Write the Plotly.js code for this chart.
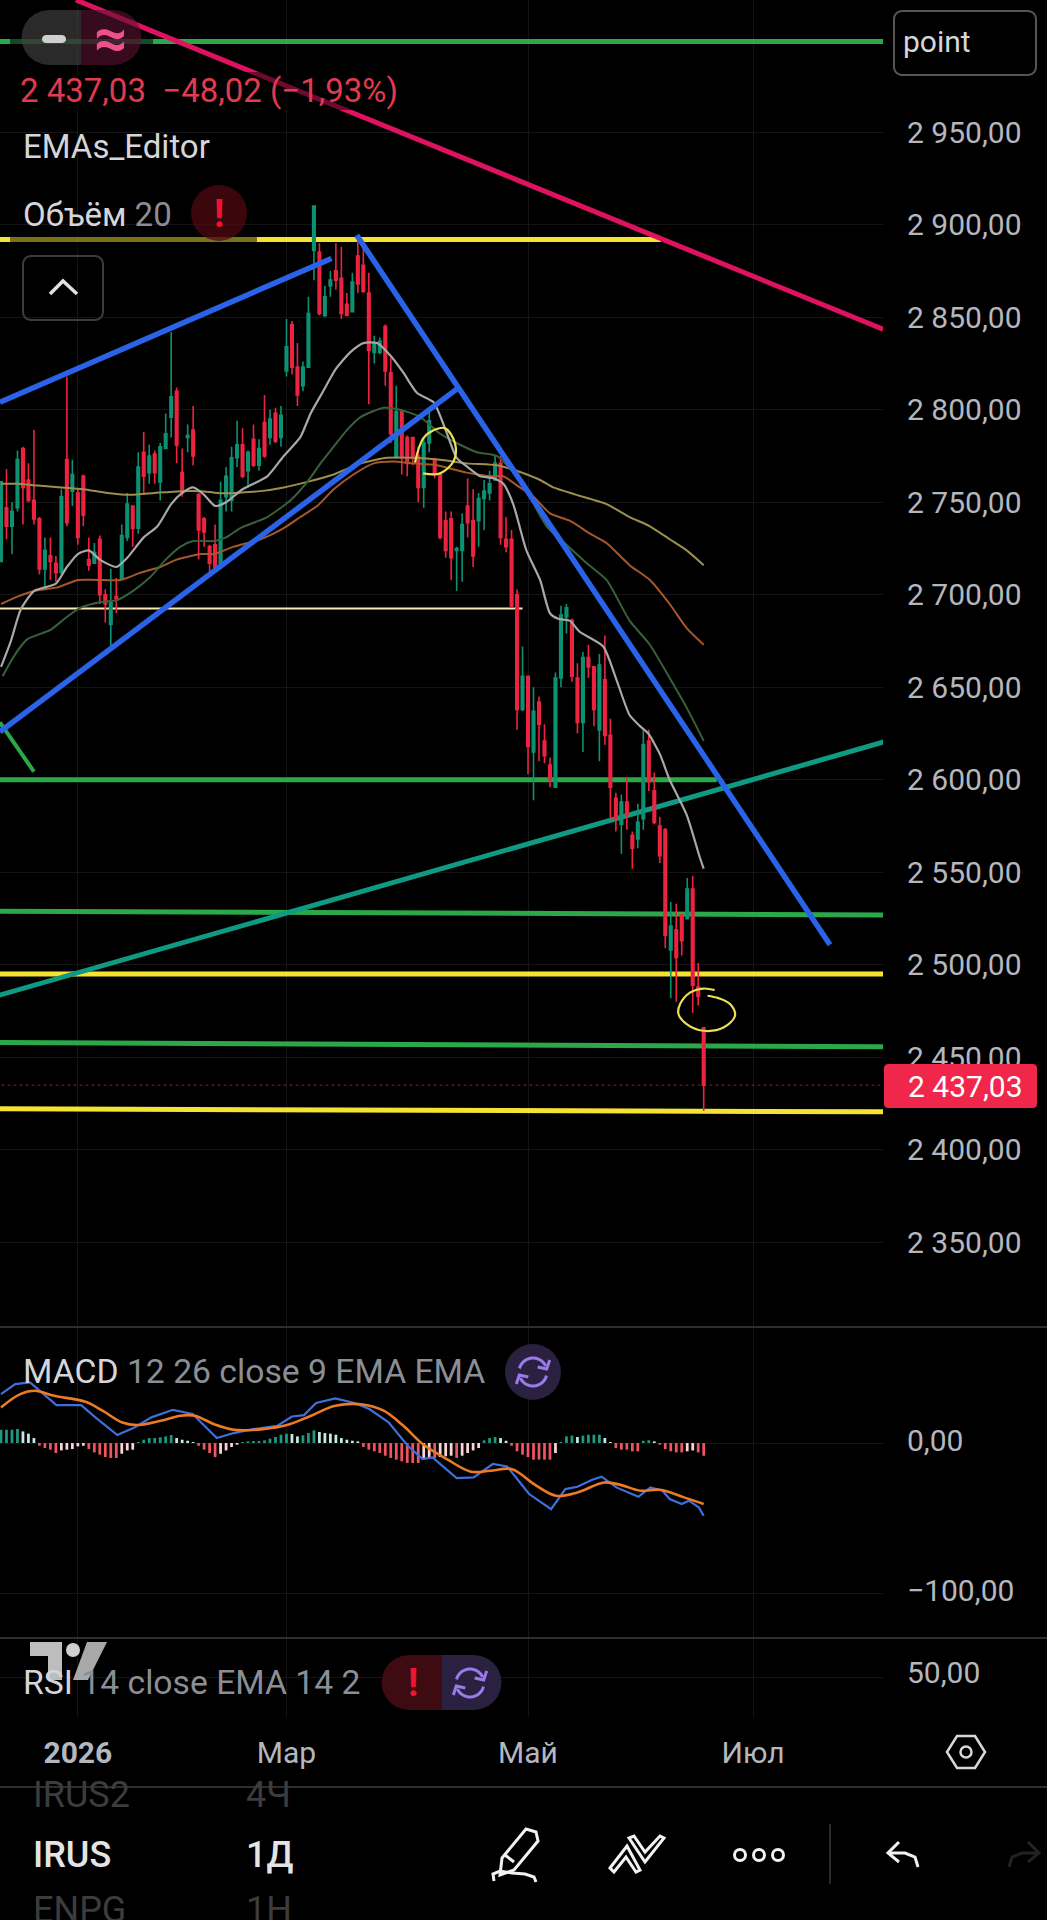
<!DOCTYPE html>
<html><head><meta charset="utf-8">
<script src="https://cdn.plot.ly/plotly-3.0.1.min.js"></script>
<style>html,body{margin:0;padding:0;background:#000;overflow:hidden}#c{width:1047px;height:1920px}</style>
</head><body><div id="c"></div>
<script>
const open_ = [
2718,2747,2737,2747,2779,2762,2751,2741,2714,2721,
2717,2712,2773,2756,2755,2764,2719,2717,2730,2700,
2684,2699,2709,2731,2748,2736,2777,2766,2776,2761,
2779,2796,2810,2766,2785,2789,2754,2741,2726,2727,
2715,2753,2751,2774,2781,2767,2784,2770,2793,2785,
2798,2785,2821,2846,2823,2813,2823,2886,2885,2851,
2867,2875,2871,2857,2853,2883,2878,2863,2831,2831,
2845,2820,2774,2799,2785,2785,2775,2758,2782,2773,
2765,2740,2741,2724,2724,2748,2740,2740,2752,2755,
2762,2771,2730,2730,2700,2638,2656,2615,2642,2621,
2608,2596,2655,2688,2686,2655,2631,2666,2661,2627,
2654,2624,2590,2576,2588,2570,2568,2579,2621,2594,
2575,2573,2508,2519,2527,2525,2541,2488,2466];
const close_ = [
2761,2737,2745,2773,2758,2751,2741,2714,2724,2718,
2712,2753,2739,2765,2731,2743,2716,2723,2700,2695,
2696,2698,2732,2749,2736,2769,2764,2775,2766,2780,
2787,2807,2781,2755,2786,2775,2735,2734,2717,2715,
2751,2764,2774,2781,2764,2777,2770,2779,2775,2795,
2783,2797,2834,2823,2808,2823,2852,2910,2852,2861,
2870,2870,2852,2851,2869,2868,2864,2832,2836,2837,
2821,2787,2799,2774,2771,2774,2758,2782,2794,2765,
2731,2724,2720,2725,2738,2739,2721,2752,2756,2760,
2771,2731,2726,2694,2638,2656,2618,2637,2630,2613,
2600,2655,2689,2693,2656,2631,2666,2661,2638,2662,
2624,2596,2579,2588,2581,2563,2577,2619,2599,2577,
2559,2516,2521,2504,2513,2541,2489,2483,2435];
const high_ = [
2761,2768,2750,2778,2780,2771,2789,2742,2731,2731,
2721,2757,2818,2773,2757,2765,2731,2728,2732,2703,
2714,2709,2738,2755,2748,2777,2788,2781,2778,2782,
2798,2842,2812,2779,2792,2802,2755,2742,2727,2738,
2761,2769,2780,2794,2790,2778,2792,2784,2808,2800,
2801,2802,2849,2848,2836,2826,2861,2910,2890,2867,
2875,2890,2888,2863,2874,2892,2888,2874,2840,2839,
2846,2828,2813,2799,2786,2785,2780,2785,2799,2774,
2766,2745,2745,2726,2744,2763,2757,2755,2762,2767,
2775,2775,2742,2735,2703,2672,2656,2650,2645,2630,
2612,2658,2694,2695,2687,2663,2669,2673,2661,2668,
2678,2633,2593,2592,2601,2572,2587,2627,2627,2604,
2580,2574,2534,2533,2527,2547,2548,2501,2466];
const low_ = [
2718,2730,2722,2745,2738,2750,2738,2711,2703,2708,
2707,2711,2737,2748,2727,2737,2713,2717,2695,2685,
2672,2690,2709,2729,2726,2733,2754,2760,2760,2751,
2779,2785,2771,2753,2777,2770,2719,2726,2711,2714,
2714,2745,2745,2769,2763,2758,2769,2767,2774,2781,
2782,2780,2818,2819,2802,2810,2823,2870,2851,2850,
2861,2865,2849,2851,2853,2863,2863,2803,2825,2830,
2813,2782,2774,2765,2764,2770,2750,2747,2777,2763,
2730,2720,2708,2702,2707,2731,2715,2726,2735,2751,
2762,2727,2723,2693,2627,2637,2603,2589,2610,2609,
2596,2596,2650,2679,2653,2625,2615,2655,2629,2610,
2619,2579,2572,2560,2573,2552,2563,2573,2594,2576,
2555,2509,2482,2480,2505,2525,2474,2478,2421];

const emaWhiteX = [0,1.8,3.6,6,10,12,14,16,18,21,23,26,28.5,31,33,35,37,39,41,44,48.5,51.5,54.5,56.4,58.5,61,63.6,66,68.5,71,73.3,75.8,78.8,81,83,85,87.3,89.7,91.5,93.3,95.7,98.2,100,101.5,103.6,105.4,109.7,112,114.5,116.4,117.9,120,121.8,124.9,127.3,128];
const emaWhiteY = [2661,2675,2692,2702,2706,2715,2722,2724,2719,2715,2720,2731,2737,2749,2755,2758,2754,2748,2750,2757,2764,2775,2785,2798,2809,2822,2831,2836,2836,2829,2820,2809,2804,2789,2774,2769,2764,2763,2760,2749,2724,2708,2690,2687,2686,2680,2672,2655,2635,2629,2625,2614,2600,2581,2558,2552];
const emaGreenX = [0.3,2.4,4.8,9,12,14.5,18,21,24,27,30,32.7,35,38.8,41,43.6,48.5,52.7,55.8,58.2,60.6,63,65.5,69.7,72.7,76.4,80,83,86.7,90.3,94.5,99.4,103,106.7,110.3,114.5,118.2,121.8,124.9,128];
const emaGreenY = [2656,2667,2676,2681,2688,2693,2696,2697,2702,2709,2719,2726,2729,2729,2731,2736,2742,2751,2761,2771,2780,2789,2796,2801,2800,2796,2787,2782,2777,2775,2762,2737,2727,2717,2708,2686,2673,2655,2639,2621];
const emaOrangeX = [0,3,6,10.3,14,17.6,21.8,25.5,29,32,36.4,38.8,42.4,47.3,51.5,54.5,57.6,60.6,64.2,67.9,71.5,75,79.4,84.8,89.7,91.5,94.5,97,100,103.6,107.3,110.3,114.5,118.2,121.8,124.9,128];
const emaOrangeY = [2695,2699,2702,2704,2708,2708,2708,2712,2715,2719,2722,2722,2726,2730,2736,2742,2748,2757,2765,2771,2772,2771,2770,2766,2764,2764,2758,2753,2744,2740,2733,2728,2716,2708,2695,2682,2673];
const emaOliveX = [0,3,6.7,11,15,19.4,23.6,28,32.7,36.4,39.4,42.4,47.3,51.5,55.8,60.6,65.5,70.3,75,80,84.8,90.3,93.9,98.2,100.6,104.8,110.3,114.5,118.2,121.8,124.9,128];
const emaOliveY = [2760,2760,2759,2758,2757,2755,2754,2755,2756,2756,2755,2755,2756,2758,2761,2765,2771,2774,2774,2773,2771,2770,2767,2762,2758,2754,2749,2742,2737,2730,2724,2716];

const macdX = [0,2.6,5.3,7.5,10.1,14.6,17.2,21.2,24.3,27.4,31.3,34.9,37.1,39.3,42.4,45.9,50.3,53,55.2,57.4,60.9,64.4,67.1,70.6,74.1,76.8,78.6,80.3,83,86.1,89.6,92.2,96.2,100.2,102.8,105,107.7,109.4,112.1,116.1,118.3,120.5,121.8,124,125.3,127.1,128];
const macdY = [32.4,39,40.1,33.5,25.1,25.1,17,5.3,10.3,17,22,19.2,11.4,3.3,6.6,9.2,11.4,17.6,18.5,26.5,29.5,26.5,22.5,13.7,-1.8,-10.6,-9.5,-15,-23.2,-22.8,-13.9,-15.5,-33.8,-43.8,-30.5,-29,-24.3,-22.3,-29.4,-35.6,-29.4,-31.6,-37.1,-40.4,-38.2,-42.6,-48.2];
const signalX = [0,3.5,6.2,9.7,15.4,18.5,22.1,24.7,29.1,32.7,35.3,38.8,42.4,47.7,52.1,56.5,60.9,66.2,69.7,73.3,76.8,81.2,85.6,89.1,93.1,97.1,101.1,105,109.9,113,116.5,120,124.4,128];
const signalY = [23.6,32.4,34.6,31.3,27.3,21.4,13.6,11.9,14.8,18.1,18.1,12.5,8.8,9.2,11.9,18.1,24.7,25.4,21.4,11.4,-0.7,-10.6,-19,-18.4,-17.3,-27.2,-34.9,-32.7,-26.1,-27.9,-31.6,-31,-36,-40.4];
const histValues = [8.8,8.8,8.8,9.3,7.7,6.2,3.3,
-1.8,-3.3,-4.4,-6.6,-4.9,-4.4,-4,-2.2,-1.8,-4,-6.2,-7.7,-9.3,-9.9,-9.9,-7.1,-4.9,-4.4,
.7,2.2,3.3,3.3,3.8,4.4,5.3,3.3,2.2,1.5,.7,
-1.8,-4.4,-6.6,-9.3,-7.1,-4.9,-2.6,-1.1,
.7,1.1,1.3,1.3,1.8,2.9,4,5.5,6.2,6,4.4,5.1,6.6,8.4,7.3,6.6,6.2,5.5,3.3,2.2,1.5,1.1,
-2.6,-4.4,-5.5,-6.6,-8.4,-9.9,-11,-12.1,-13.2,-13.2,-13.2,-10.6,-9.9,-9.9,-9.3,-8.8,-8.4,-9.9,-8.4,-6.6,-4.9,-3.3,
1.8,3.3,4,3.3,1.5,
-1.8,-5.5,-7.7,-9.3,-11,-11,-11,-11,-6.6,
.7,4.4,4.9,4,4.9,5.5,5.5,5.5,3.3,.7,
-3.3,-4.4,-4.4,-5.5,-5.5,
1.5,1.8,1.1,
-1.1,-4,-5.5,-6.2,-6.2,-5.5,-4.9,-6.2,-8.4];

const priceTicks = [2350,2400,2450,2500,2550,2600,2650,2700,2750,2800,2850,2900,2950];
const priceLabels = ['2 350,00','2 400,00','2 450,00','2 500,00','2 550,00','2 600,00','2 650,00','2 700,00','2 750,00','2 800,00','2 850,00','2 900,00','2 950,00'];
const macdTicks = [0,-100];
const macdLabels = ['0,00','−100,00'];
const rsiTicks = [50];
const rsiLabels = ['50,00'];
const dateTicks = [14,52,96,137];
const dateLabels = ['<b>2026</b>','Мар','Май','Июл'];
const lastPrice = 2435;

// Drawn trend lines and levels: [x0, price0, x1, price1]
const greenLevels = [[-1,2999,161,2999],[-1,2600,130.4,2600],[-1,2529,161,2527],[-1,2458,161,2455.7]];
const yellowLevels = [[-1,2892,120.2,2892],[-1,2495,161,2495],[-1,2422.2,161,2420.6]];
const creamLevel = [-1,2692.6,95,2692.6];
const tealTrend = [-1,2483,161,2620.6];
const redTrend = [13.66,3021.4,160.66,2843.5];
const greenStub = [-0.2,2631,6,2604.4];
const blueTrends = [[-0.2,2804,60.2,2881.7],[-0.2,2626,83.2,2811.5],[64.8,2894.3,151,2510.9]];
const ring1X = [75.4,76.9,78.7,80.9,82.7,82.5,80,76.9];
const ring1Y = [2771.5,2784.5,2788.8,2790,2781.8,2772.6,2765.6,2765.6];
const ring2X = [130,127.9,125.5,123.7,123.4,124.9,127.9,131.6,133.7,132.8,130.7,128.7];
const ring2Y = [2486.4,2487.2,2485,2478.8,2473.4,2468,2464.4,2466.1,2472.5,2478.8,2482,2483.3];

const W=1047,H=1920,FONT='Roboto, sans-serif';
const X=x=>x/W, Y=y=>1-y/H;
const idx = close_.map((_,i)=>i);
const seg=(a,name,color,width)=>({type:'scatter',mode:'lines',x:[a[0],a[2]],y:[a[1],a[3]],line:{color,width},hoverinfo:'skip',showlegend:false,xaxis:'x',yaxis:'y'});
const ema=(x,y,color,width)=>({type:'scatter',mode:'lines',x,y,line:{color,width,shape:'spline',smoothing:.6},hoverinfo:'skip',showlegend:false,xaxis:'x',yaxis:'y'});

const histColors = histValues.map((v,i)=>{const p=i?histValues[i-1]:v;
  return v>=0 ? (v>=p?'#1f9a82':'#c4ebe3') : (v<=p?'#f0555f':'#fbd4d8');});

const traces=[
 {type:'candlestick',x:idx,open:open_,high:high_,low:low_,close:close_,whiskerwidth:0,hoverinfo:'skip',showlegend:false,
  increasing:{line:{color:'#0d9173',width:1.6},fillcolor:'#0d9173'},decreasing:{line:{color:'#ec2440',width:1.6},fillcolor:'#ec2440'},xaxis:'x',yaxis:'y'},
 ema(emaOliveX,emaOliveY,'#9c8f4d',2),
 ema(emaOrangeX,emaOrangeY,'#a5582a',2),
 ema(emaGreenX,emaGreenY,'#38603a',2),
 ema(emaWhiteX,emaWhiteY,'#a8a8a8',2.2),
 seg(redTrend,'red','#df1260',5),
 seg(greenStub,'stub','#2ba84a',4),
 ...blueTrends.map(b=>seg(b,'blue','#2a62e8',5.5)),
 {type:'scatter',mode:'lines',x:ring1X,y:ring1Y,line:{color:'#eadf55',width:2.2,shape:'spline'},hoverinfo:'skip',showlegend:false,xaxis:'x',yaxis:'y'},
 {type:'scatter',mode:'lines',x:ring2X,y:ring2Y,line:{color:'#eadf55',width:2.2,shape:'spline'},hoverinfo:'skip',showlegend:false,xaxis:'x',yaxis:'y'},
 {type:'scatter',mode:'lines',x:[-1,161],y:[lastPrice,lastPrice],line:{color:'rgba(242,54,69,.55)',width:1,dash:'dot'},hoverinfo:'skip',showlegend:false,xaxis:'x',yaxis:'y'},
 {type:'bar',x:idx,y:histValues,width:0.5,marker:{color:histColors,line:{width:0}},hoverinfo:'skip',showlegend:false,xaxis:'x',yaxis:'y2'},
 {type:'scatter',mode:'lines',x:macdX,y:macdY,line:{color:'#3f6fdc',width:2.2},hoverinfo:'skip',showlegend:false,xaxis:'x',yaxis:'y2'},
 {type:'scatter',mode:'lines',x:signalX,y:signalY,line:{color:'#ee7a24',width:2.6,shape:'spline'},hoverinfo:'skip',showlegend:false,xaxis:'x',yaxis:'y2'},
 // RSI pane: the reference shows only its 50 level, so an invisible anchor keeps the pane's axis alive
 {type:'scatter',mode:'lines',x:[idx[0]],y:[rsiTicks[0]],line:{width:0},hoverinfo:'skip',showlegend:false,xaxis:'x',yaxis:'y3'}
];

// chrome helpers
const poly=(pts,close)=>'M'+pts.map(p=>X(p[0])+' '+Y(p[1])).join(' L ')+(close?' Z':'');
const arc=(cx,cy,r,a0,a1,n=14)=>Array.from({length:n+1},(_,k)=>{const a=(a0+(a1-a0)*k/n)*Math.PI/180;return [cx+r*Math.cos(a),cy+r*Math.sin(a)];});
const rr=(x0,y0,x1,y1,r)=>[...arc(x1-r,y0+r,r,-90,0,5),...arc(x1-r,y1-r,r,0,90,5),...arc(x0+r,y1-r,r,90,180,5),...arc(x0+r,y0+r,r,180,270,5)];
const pathS=(d,line,fill,layer='above')=>({type:'path',xref:'paper',yref:'paper',path:d,line:line||{width:0},fillcolor:fill||'rgba(0,0,0,0)',layer});
const rect=(x0,y0,x1,y1,fill)=>({type:'rect',xref:'paper',yref:'paper',x0:X(x0),x1:X(x1),y0:Y(y0),y1:Y(y1),fillcolor:fill,line:{width:0},layer:'above'});
const circ=(cx,cy,r,fill,line)=>({type:'circle',xref:'paper',yref:'paper',x0:X(cx-r),x1:X(cx+r),y0:Y(cy-r),y1:Y(cy+r),fillcolor:fill,line:line||{width:0},layer:'above'});
const hline=(x0,x1,y,color,w)=>({type:'line',xref:'paper',yref:'paper',x0:X(x0),x1:X(x1),y0:Y(y),y1:Y(y),line:{color,width:w},layer:'above'});
const refresh=(cx,cy)=>{const c='#9a7be8',s={color:c,width:3};const r=14;
 const a1=arc(cx,cy,r,195,335),a2=arc(cx,cy,r,15,155);
 const e1=a1[a1.length-1],e2=a2[a2.length-1];
 return [pathS(poly(a1),s),pathS(poly(a2),s),
  pathS(poly([[e1[0]-8,e1[1]+1],[e1[0]+1,e1[1]+3],[e1[0]+4,e1[1]-6]]),s),
  pathS(poly([[e2[0]+8,e2[1]-1],[e2[0]-1,e2[1]-3],[e2[0]-4,e2[1]+6]]),s)];};
const dataLine=(a,color,width)=>({type:'line',xref:'x',yref:'y',x0:a[0],y0:a[1],x1:a[2],y1:a[3],line:{color,width},layer:'between'});

const wl={color:'#f2f2f2',width:3};
const shapes=[
 ...greenLevels.map(a=>dataLine(a,'#2ba84a',5)),
 ...yellowLevels.map(a=>dataLine(a,'#f5e332',5)),
 dataLine(creamLevel,'#fbe7ad',2),
 dataLine(tealTrend,'#0f9a82',5),
 // pane dividers
 hline(0,W,1327,'#2e2e2e',2),hline(0,W,1638,'#2e2e2e',2),hline(0,W,1787,'#2e2e2e',2),
 // legend shading
 rect(10,35,153,48,'rgba(0,0,0,.55)'),
 rect(10,227,257,251,'rgba(0,0,0,.5)'),
 rect(10,72,407,110,'rgba(0,0,0,.5)'),
 // top pill
 pathS(poly([[81,10],[81,65],...arc(49,37.5,27.5,90,270,12)],true),null,'rgba(70,70,70,.6)'),
 pathS(poly([[81,10],...arc(114,37.5,27.5,-90,90,12),[81,65]],true),null,'rgba(90,18,50,.6)'),
 pathS(poly(rr(42,35,66,43,4),true),null,'#cfcfcf'),
 // alert badge
 circ(219,213,28,'rgba(80,10,16,.75)'),
 // collapse button
 pathS(poly(rr(23,256,103,320,8),true),{color:'#3c3c3c',width:2}),
 pathS(poly([[50,294],[63,281],[77,294]]),{color:'#e0e0e0',width:3.5}),
 // interval box
 pathS(poly(rr(894,11,1036,75,8),true),{color:'#555',width:2}),
 // price tag
 pathS(poly(rr(884,1064,1037,1108,4),true),null,'#f0264a'),
 // macd badge
 circ(533,1372,28,'#2a2140'),
 ...refresh(533,1372),
 // rsi pill
 pathS(poly([[442,1655],[442,1710],...arc(409,1682.5,27.5,90,270,12)],true),null,'#3f0b12'),
 pathS(poly([[442,1655],...arc(474,1682.5,27.5,-90,90,12),[442,1710]],true),null,'#2a2140'),
 ...refresh(470,1683),
 // tradingview logo
 pathS(poly([[30,1642],[62,1642],[62,1680],[48,1680],[48,1656],[30,1656]],true),null,'#bdbdbd'),
 circ(73,1650,7,'#d0d0d0'),
 pathS(poly([[87,1642],[107,1642],[88,1680],[73,1680]],true),null,'#a8a8a8'),
 // date-scale settings
 pathS(poly([[957,1736],[975,1736],[985,1752],[975,1768],[957,1768],[947,1752]],true),{color:'#d8d8d8',width:2.5}),
 circ(966,1752,5.5,'rgba(0,0,0,0)',{color:'#d8d8d8',width:2.5}),
 // toolbar: pencil
 pathS(poly([[502,1858],[526,1829],[536,1832],[538,1841],[514,1870],[500,1875]],true),wl),
 pathS(poly([[505,1855],[514,1862]]),wl),
 pathS(poly([[494,1881],[493,1874],[500,1871],[512,1873],[525,1874],[534,1877],[536,1882]]),wl),
 // toolbar: drawing tools
 pathS(poly([[610,1868],[627,1846],[640,1870],[636,1872],[626,1857],[614,1872]],true),wl),
 pathS(poly([[629,1838],[645,1862],[664,1838],[660,1836],[645,1852],[634,1836]],true),wl),
 // toolbar: more
 circ(740,1855,5.5,'rgba(0,0,0,0)',wl),circ(759,1855,5.5,'rgba(0,0,0,0)',wl),circ(778,1855,5.5,'rgba(0,0,0,0)',wl),
 {type:'line',xref:'paper',yref:'paper',x0:X(830),x1:X(830),y0:Y(1824),y1:Y(1884),line:{color:'#2a2a2a',width:2},layer:'above'},
 // undo / redo
 pathS(poly([[899,1842],[888,1853],[899,1862]]),wl),
 pathS(poly([[888,1853],[905,1853],[915,1857],[918,1867]]),wl),
 pathS(poly([[1028,1842],[1039,1853],[1028,1862]]),{color:'#222',width:3}),
 pathS(poly([[1039,1853],[1022,1853],[1012,1857],[1009,1867]]),{color:'#222',width:3})
];

const ann=(x,y,text,size,color,extra={})=>Object.assign({xref:'paper',yref:'paper',x:X(x),y:Y(y),text,showarrow:false,xanchor:'left',yanchor:'middle',font:{family:FONT,size,color},borderpad:0},extra);
const gray=t=>'<span style="color:#8b8e95">'+t+'</span>';
const med=(size,color)=>({font:{family:FONT,size,color,weight:500}});
const annotations=[
 ann(19,90,'2 437,03  −48,02 (−1,93%)',33,'#e23a4e'),
 ann(22,147,'EMAs_Editor',33,'#d4d6dc'),
 ann(22,214,'Объём '+gray('20'),33,'#d4d6dc'),
 ann(219,214,'<b>!</b>',38,'#f0142f',{xanchor:'center'}),
 ann(110,38,'<b>≈</b>',58,'#f0508a',{xanchor:'center'}),
 ann(902,42,'point',30,'#d4d6dc'),
 ann(907,1086,'2 437,03',30,'#ffffff'),
 ann(22,1371,'MACD '+gray('12 26 close 9 EMA EMA'),33.7,'#d4d6dc'),
 ann(22,1682,'RSI '+gray('14 close EMA 14 2'),33.7,'#d4d6dc'),
 ann(413,1683,'<b>!</b>',38,'#f0142f',{xanchor:'center'}),
 ann(32,1795,'IRUS2',36,'#3c3c3c'),
 ann(245,1795,'4Ч',36,'#3c3c3c'),
 ann(32,1855,'IRUS',36,'#e4e4e4',med(36,'#e4e4e4')),
 ann(245,1855,'1Д',36,'#e4e4e4',med(36,'#e4e4e4')),
 ann(32,1910,'ENPG',36,'#3c3c3c'),
 ann(245,1910,'1Н',36,'#3c3c3c')
];

const yAxisBase={side:'right',anchor:'x',showgrid:true,gridcolor:'#151515',gridwidth:1,zeroline:false,showline:false,ticks:'',ticklabelstandoff:23,tickmode:'array',fixedrange:true,
 tickfont:{family:FONT,size:30,color:'#b4b7bd'}};
const layout={
 width:W,height:H,margin:{l:0,r:0,t:0,b:0,pad:0},paper_bgcolor:'#000',plot_bgcolor:'#000',showlegend:false,hovermode:false,boxgap:0.35,
 xaxis:{domain:[0,883/W],range:[-0.18,160.66],anchor:'y3',showgrid:true,gridcolor:'#151515',gridwidth:1,zeroline:false,showline:false,ticks:'',rangeslider:{visible:false},
   tickmode:'array',tickvals:dateTicks,ticktext:dateLabels,ticklabelstandoff:15,tickfont:{family:FONT,size:30,color:'#b4b7bd'},fixedrange:true},
 yaxis:Object.assign({},yAxisBase,{domain:[1-1327/H,1],range:[2304.3,3021.4],tickvals:priceTicks,ticktext:priceLabels}),
 yaxis2:Object.assign({},yAxisBase,{domain:[1-1637/H,1-1328/H],range:[-128.5,76.2],tickvals:macdTicks,ticktext:macdLabels,ticklabelshift:-3}),
 yaxis3:Object.assign({},yAxisBase,{domain:[1-1717/H,1-1638/H],range:[30,70],tickvals:rsiTicks,ticktext:rsiLabels,ticklabelshift:-5}),
 shapes,annotations
};
Plotly.newPlot('c',traces,layout,{displayModeBar:false,staticPlot:true});
</script></body></html>
